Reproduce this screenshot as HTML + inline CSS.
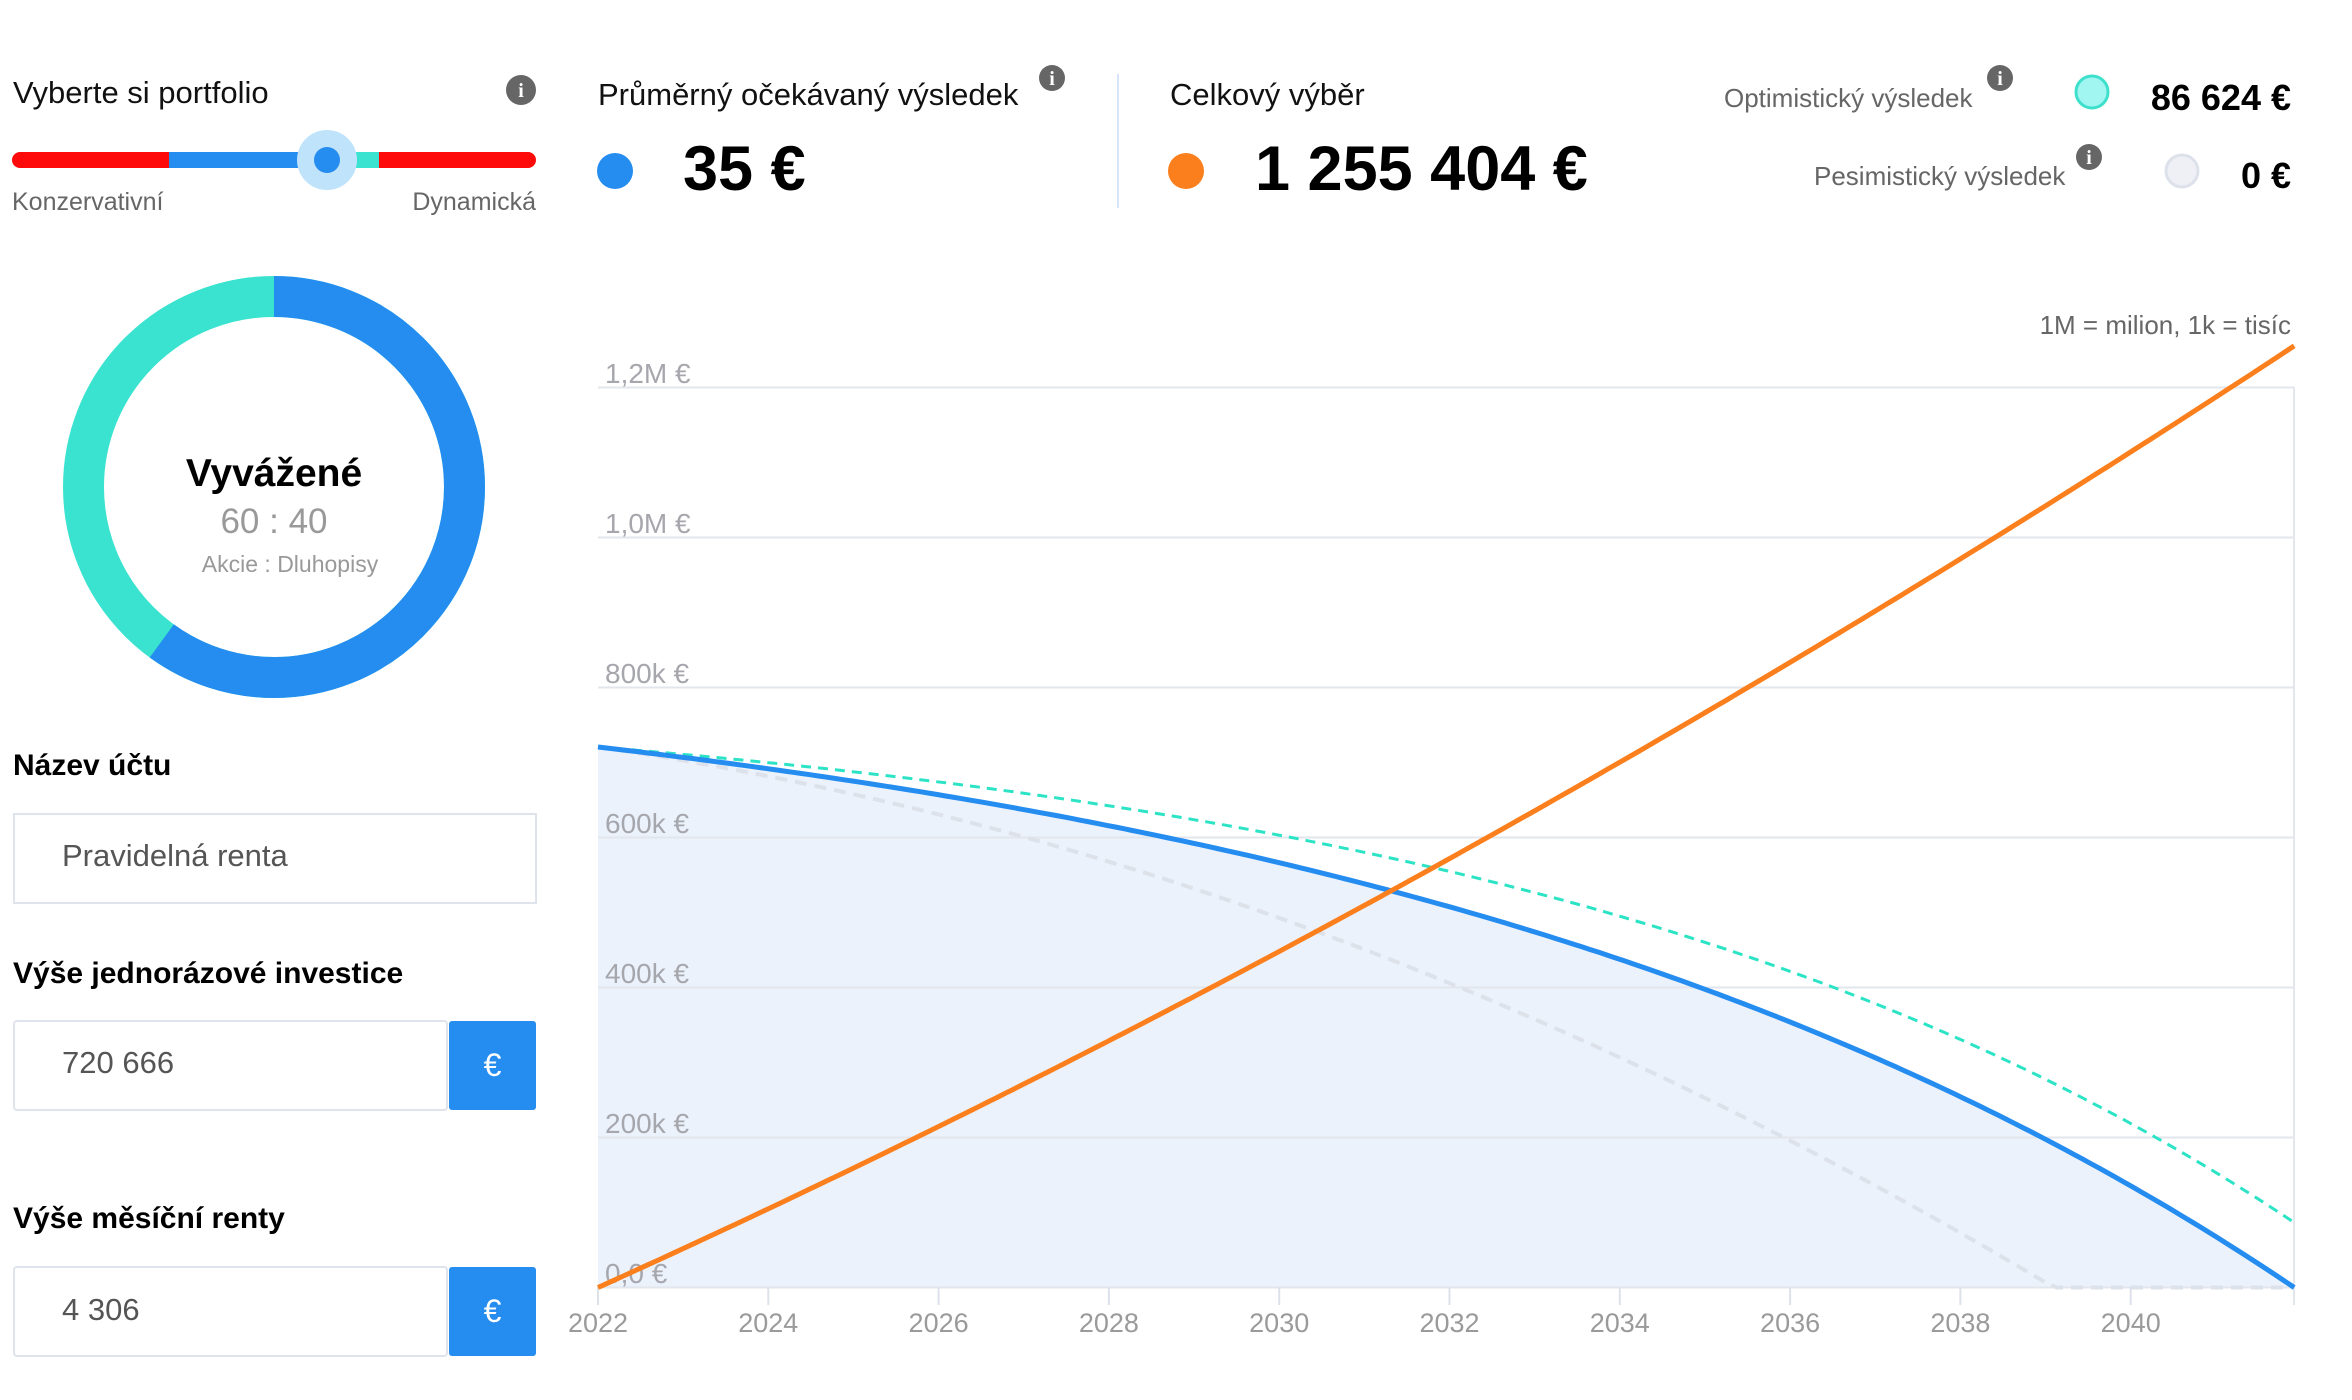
<!DOCTYPE html>
<html><head><meta charset="utf-8"><style>
body{margin:0;width:2352px;height:1400px;background:#fff;font-family:"Liberation Sans",sans-serif;position:relative;overflow:hidden}
.t{position:absolute;white-space:nowrap}
.box{position:absolute;border:2px solid #dfe3ec;box-sizing:border-box;background:#fff}
.btn{position:absolute;background:#258cf0;color:#fff;font-size:32px;display:flex;align-items:center;justify-content:center;border-radius:3px}
</style></head><body>
<svg width="2352" height="1400" style="position:absolute;left:0;top:0">
<rect x="12" y="152" width="524" height="16" rx="8" fill="#ff0a0a"/>
<rect x="169" y="152" width="160" height="16" fill="#258cf0"/>
<rect x="327" y="152" width="52" height="16" fill="#39e3cf"/>
<ellipse cx="327" cy="160" rx="30" ry="30" fill="#bfe3fb"/>
<circle cx="327" cy="160" r="13" fill="#258cf0"/>
<g fill="#666"><circle cx="521" cy="90" r="15"/><circle cx="1052" cy="78" r="13"/><circle cx="2000" cy="78" r="13"/><circle cx="2089" cy="157" r="13"/></g>
<g fill="#fff" font-family="Liberation Serif" font-weight="bold" text-anchor="middle" font-size="20"><text x="521" y="97">i</text><text x="1052" y="85">i</text><text x="2000" y="85">i</text><text x="2089" y="164">i</text></g>
<circle cx="274" cy="487" r="190.5" fill="none" stroke="#39e3cf" stroke-width="41"/>
<circle cx="274" cy="487" r="190.5" fill="none" stroke="#258cf0" stroke-width="41" stroke-dasharray="718.2 2000" transform="rotate(-90 274 487)"/>
<circle cx="615" cy="171" r="18" fill="#258cf0"/>
<circle cx="1186" cy="171" r="18" fill="#fb7f1c"/>
<circle cx="2092" cy="92" r="16" fill="#a1f6f1" stroke="#3ee0cc" stroke-width="3"/>
<circle cx="2182" cy="171" r="16" fill="#eef0f6" stroke="#dde1ea" stroke-width="3"/>
<line x1="1118" y1="74" x2="1118" y2="208" stroke="#d6e6f8" stroke-width="2"/>
<path id="fill" fill="#ebf2fc"/>
<g stroke="#e3e6ec" stroke-width="2">
<line x1="598" y1="387.5" x2="2294" y2="387.5"/><line x1="598" y1="537.5" x2="2294" y2="537.5"/><line x1="598" y1="687.5" x2="2294" y2="687.5"/><line x1="598" y1="837.5" x2="2294" y2="837.5"/><line x1="598" y1="987.5" x2="2294" y2="987.5"/><line x1="598" y1="1137.5" x2="2294" y2="1137.5"/><line x1="598" y1="1287.5" x2="2294" y2="1287.5"/>
<line x1="2294" y1="387" x2="2294" y2="1305"/>
</g>
<g id="ticks" stroke="#dde1ea" stroke-width="2"></g>
<g fill="#a6a6ad" font-size="28">
<text x="605" y="383">1,2M €</text><text x="605" y="533">1,0M €</text><text x="605" y="683">800k €</text><text x="605" y="833">600k €</text><text x="605" y="983">400k €</text><text x="605" y="1133">200k €</text><text x="605" y="1283">0,0 €</text>
</g>
<g fill="#9a9a9a" font-size="27" text-anchor="middle" id="xlab"></g>
<path id="pes" fill="none" stroke="#dde1ea" stroke-width="4" stroke-dasharray="12 8"/>
<path id="opt" fill="none" stroke="#2de3c6" stroke-width="3" stroke-dasharray="10 7"/>
<path id="blue" fill="none" stroke="#258cf0" stroke-width="5"/>
<path id="ora" fill="none" stroke="#fb7f1c" stroke-width="5"/>
</svg>
<div class="t" style="left:13px;top:75px;font-size:31px;color:#111">Vyberte si portfolio</div>
<div class="t" style="left:12px;top:188px;font-size:25px;color:#666">Konzervativní</div>
<div class="t" style="left:412px;top:188px;font-size:25px;color:#666;width:124px;text-align:right">Dynamická</div>
<div class="t" style="left:74px;top:452px;width:400px;text-align:center;font-size:39px;font-weight:bold;color:#000">Vyvážené</div>
<div class="t" style="left:74px;top:502px;width:400px;text-align:center;font-size:35px;color:#999">60 : 40</div>
<div class="t" style="left:90px;top:551px;width:400px;text-align:center;font-size:23px;color:#999">Akcie : Dluhopisy</div>
<div class="t" style="left:598px;top:77px;font-size:31px;color:#111">Průměrný očekávaný výsledek</div>
<div class="t" style="left:683px;top:133px;font-size:63px;font-weight:bold;color:#000">35 €</div>
<div class="t" style="left:1170px;top:77px;font-size:31px;color:#111">Celkový výběr</div>
<div class="t" style="left:1255px;top:133px;font-size:63px;font-weight:bold;color:#000">1 255 404 €</div>
<div class="t" style="left:1724px;top:83px;font-size:26px;color:#666">Optimistický výsledek</div>
<div class="t" style="left:1814px;top:161px;font-size:26px;color:#666">Pesimistický výsledek</div>
<div class="t" style="left:2091px;top:77px;width:200px;text-align:right;font-size:36px;font-weight:bold;color:#000">86 624 €</div>
<div class="t" style="left:2091px;top:155px;width:200px;text-align:right;font-size:36px;font-weight:bold;color:#000">0 €</div>
<div class="t" style="left:1891px;top:310px;width:400px;text-align:right;font-size:26px;color:#666">1M = milion, 1k = tisíc</div>
<div class="t" style="left:13px;top:749px;font-size:30px;font-weight:bold;color:#000">Název účtu</div>
<div class="box" style="left:13px;top:813px;width:524px;height:91px"></div>
<div class="t" style="left:62px;top:838px;font-size:31px;color:#555">Pravidelná renta</div>
<div class="t" style="left:13px;top:957px;font-size:30px;font-weight:bold;color:#000">Výše jednorázové investice</div>
<div class="box" style="left:13px;top:1020px;width:435px;height:91px;border-radius:4px"></div>
<div class="btn" style="left:449px;top:1021px;width:87px;height:89px">€</div>
<div class="t" style="left:62px;top:1045px;font-size:31px;color:#555">720 666</div>
<div class="t" style="left:13px;top:1202px;font-size:30px;font-weight:bold;color:#000">Výše měsíční renty</div>
<div class="box" style="left:13px;top:1266px;width:435px;height:91px;border-radius:4px"></div>
<div class="btn" style="left:449px;top:1267px;width:87px;height:89px">€</div>
<div class="t" style="left:62px;top:1292px;font-size:31px;color:#555">4 306</div>
<script>
var T=19.92,X=t=>598+85.15*t, Y=v=>1287.5-v*0.75, P0=720.7;
function path(f,t1){var d="";for(var i=0;i<=200;i++){var t=t1*i/200;d+=(i?" L":"M")+X(t).toFixed(1)+","+Y(f(t)).toFixed(1);}return d;}
var kb=Math.log((P0/151)+1)/T;
var fb=t=>P0-151*(Math.exp(kb*t)-1);
var ko=0.105,Ao=(P0-86.6)/(Math.exp(ko*T)-1);
var fo=t=>P0-Ao*(Math.exp(ko*t)-1);
var c2=1.5,tp=17.1,c1=(P0-c2*tp*tp)/tp;
var fp=t=>Math.max(0,P0-c1*t-c2*t*t);
var fr=t=>{var b=0.588,a=(1255.4-b*T*T)/T;return a*t+b*t*t;};
var db=path(fb,T);
document.getElementById('blue').setAttribute('d',db);
document.getElementById('fill').setAttribute('d',db+" L598,1287.5 Z");
document.getElementById('opt').setAttribute('d',path(fo,T));
document.getElementById('pes').setAttribute('d',path(fp,T));
document.getElementById('ora').setAttribute('d',path(fr,T));
var tk=document.getElementById('ticks'),xl=document.getElementById('xlab'),ns="http://www.w3.org/2000/svg";
for(var k=0;k<=9;k++){var x=X(2*k);var l=document.createElementNS(ns,'line');l.setAttribute('x1',x);l.setAttribute('x2',x);l.setAttribute('y1',1287);l.setAttribute('y2',1305);tk.appendChild(l);
var tx=document.createElementNS(ns,'text');tx.setAttribute('x',x);tx.setAttribute('y',1332);tx.textContent=2022+2*k;xl.appendChild(tx);}
</script>
</body></html>
